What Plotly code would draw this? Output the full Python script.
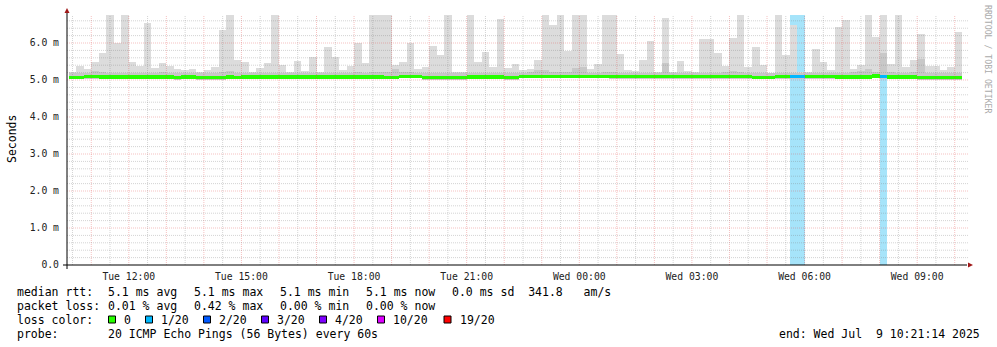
import plotly.graph_objects as go
import pandas as pd

# ---------------- data ----------------
bin_first_start = "2025-07-08 10:24:00"
bin_minutes = 12
window_start = "2025-07-08 10:21:14"
window_end = "2025-07-09 10:21:14"

rtt_max_ms = [
    5.22, 5.38, 5.30, 5.49, 5.73, 6.76, 6.00, 6.76, 5.49, 5.38,
    6.54, 5.32, 5.46, 5.38, 5.30, 5.27, 5.30, 5.22, 5.27, 5.35,
    6.35, 6.76, 5.54, 5.49, 5.22, 5.32, 5.46, 6.76, 5.41, 5.22,
    5.51, 5.24, 5.62, 5.22, 5.89, 5.62, 5.27, 5.38, 6.00, 5.46,
    6.76, 6.76, 6.76, 5.41, 5.49, 6.00, 5.30, 5.35, 5.92, 5.68,
    6.76, 5.23, 5.22, 6.76, 5.49, 5.76, 5.35, 6.65, 5.32, 5.43,
    5.27, 5.30, 5.54, 6.76, 6.49, 6.76, 5.78, 6.76, 6.76, 5.30,
    5.43, 6.76, 6.76, 5.70, 5.27, 5.24, 5.54, 6.05, 5.22, 6.68,
    5.22, 5.51, 5.24, 5.22, 6.11, 6.11, 5.73, 5.38, 6.14, 6.76,
    5.35, 5.89, 5.41, 5.20, 6.76, 5.68, 6.49, 5.22, 5.22, 5.84,
    5.49, 5.27, 6.43, 6.62, 5.30, 5.41, 6.76, 6.16, 6.76, 5.43,
    6.76, 5.35, 5.54, 6.24, 5.38, 5.38, 5.27, 5.35, 6.30,
]

rtt_dense_top_ms = [
    5.18, 5.19, 5.19, 5.24, 5.22, 5.19, 5.19, 5.19, 5.19, 5.19,
    5.20, 5.19, 5.21, 5.19, 5.18, 5.18, 5.18, 5.18, 5.19, 5.19,
    5.22, 5.24, 5.19, 5.19, 5.18, 5.19, 5.19, 5.19, 5.19, 5.18,
    5.19, 5.18, 5.19, 5.18, 5.19, 5.19, 5.18, 5.20, 5.21, 5.20,
    5.21, 5.22, 5.22, 5.30, 5.22, 5.21, 5.19, 5.18, 5.18, 5.18,
    5.19, 5.18, 5.18, 5.19, 5.18, 5.19, 5.19, 5.20, 5.18, 5.18,
    5.20, 5.21, 5.27, 5.27, 5.22, 5.23, 5.21, 5.33, 5.36, 5.20,
    5.20, 5.21, 5.21, 5.20, 5.20, 5.19, 5.19, 5.20, 5.19, 5.46,
    5.19, 5.19, 5.19, 5.19, 5.20, 5.20, 5.20, 5.22, 5.25, 5.22,
    5.20, 5.19, 5.19, 5.19, 5.20, 5.20, 5.20, 5.19, 5.19, 5.19,
    5.19, 5.19, 5.20, 5.20, 5.21, 5.24, 5.30, 5.22, 5.72, 5.21,
    5.20, 5.20, 5.22, 5.58, 5.20, 5.20, 5.19, 5.19, 5.20,
]

rtt_median_ms = [
    5.07, 5.07, 5.09, 5.09, 5.08, 5.08, 5.08, 5.08, 5.08, 5.08,
    5.08, 5.08, 5.08, 5.08, 5.06, 5.08, 5.08, 5.06, 5.06, 5.06,
    5.06, 5.08, 5.07, 5.08, 5.08, 5.08, 5.08, 5.08, 5.08, 5.08,
    5.08, 5.08, 5.08, 5.08, 5.08, 5.08, 5.08, 5.08, 5.08, 5.08,
    5.08, 5.08, 5.07, 5.07, 5.10, 5.10, 5.10, 5.06, 5.06, 5.06,
    5.06, 5.06, 5.06, 5.08, 5.08, 5.08, 5.08, 5.08, 5.06, 5.06,
    5.10, 5.10, 5.10, 5.10, 5.10, 5.10, 5.10, 5.10, 5.10, 5.10,
    5.10, 5.10, 5.09, 5.09, 5.09, 5.09, 5.09, 5.09, 5.09, 5.09,
    5.09, 5.09, 5.09, 5.09, 5.09, 5.09, 5.09, 5.09, 5.09, 5.09,
    5.09, 5.07, 5.07, 5.07, 5.09, 5.09, 5.09, 5.09, 5.09, 5.09,
    5.09, 5.09, 5.08, 5.08, 5.08, 5.08, 5.08, 5.11, 5.09, 5.08,
    5.08, 5.08, 5.08, 5.06, 5.06, 5.06, 5.06, 5.06, 5.06,
]

rtt_min_ms = [
    5.02, 5.02, 5.04, 5.04, 5.03, 5.03, 5.03, 5.03, 5.03, 5.03,
    5.03, 5.03, 5.03, 5.03, 5.01, 5.03, 5.03, 5.01, 5.01, 5.01,
    5.01, 5.03, 5.02, 5.03, 5.03, 5.03, 5.03, 5.03, 5.03, 5.03,
    5.03, 5.03, 5.03, 5.03, 5.03, 5.03, 5.03, 5.03, 5.03, 5.03,
    5.03, 5.03, 5.02, 5.02, 5.05, 5.05, 5.05, 5.01, 5.01, 5.01,
    5.01, 5.01, 5.01, 5.03, 5.03, 5.03, 5.03, 5.03, 5.01, 5.01,
    5.05, 5.05, 5.05, 5.05, 5.05, 5.05, 5.05, 5.05, 5.05, 5.05,
    5.05, 5.05, 5.04, 5.04, 5.04, 5.04, 5.04, 5.04, 5.04, 5.04,
    5.04, 5.04, 5.04, 5.04, 5.04, 5.04, 5.04, 5.04, 5.04, 5.04,
    5.04, 5.02, 5.02, 5.02, 5.04, 5.04, 5.04, 5.04, 5.04, 5.04,
    5.04, 5.04, 5.03, 5.03, 5.03, 5.03, 5.03, 5.06, 5.04, 5.03,
    5.03, 5.03, 5.03, 5.01, 5.01, 5.01, 5.01, 5.01, 5.01,
]

# lost pings (out of 20) per bin
loss_pings = [
    0, 0, 0, 0, 0, 0, 0, 0, 0, 0,
    0, 0, 0, 0, 0, 0, 0, 0, 0, 0,
    0, 0, 0, 0, 0, 0, 0, 0, 0, 0,
    0, 0, 0, 0, 0, 0, 0, 0, 0, 0,
    0, 0, 0, 0, 0, 0, 0, 0, 0, 0,
    0, 0, 0, 0, 0, 0, 0, 0, 0, 0,
    0, 0, 0, 0, 0, 0, 0, 0, 0, 0,
    0, 0, 0, 0, 0, 0, 0, 0, 0, 0,
    0, 0, 0, 0, 0, 0, 0, 0, 0, 0,
    0, 0, 0, 0, 0, 0, 1, 1, 0, 0,
    0, 0, 0, 0, 0, 0, 0, 0, 1, 0,
    0, 0, 0, 0, 0, 0, 0, 0, 0,
]

loss_levels = [0, 1, 2, 3, 4, 10, 19]
loss_labels = ["0", "1/20", "2/20", "3/20", "4/20", "10/20", "19/20"]
loss_colors = ["#26ff00", "#00b8ff", "#0059ff", "#5e00ff", "#7e00ff", "#dd00ff", "#ff0000"]

y_tick_values = [0, 1, 2, 3, 4, 5, 6]
y_tick_labels = ["0.0", "1.0 m", "2.0 m", "3.0 m", "4.0 m", "5.0 m", "6.0 m"]
x_tick_values = ["2025-07-08 12:00", "2025-07-08 15:00", "2025-07-08 18:00", "2025-07-08 21:00",
                 "2025-07-09 00:00", "2025-07-09 03:00", "2025-07-09 06:00", "2025-07-09 09:00"]
x_tick_labels = ["Tue 12:00", "Tue 15:00", "Tue 18:00", "Tue 21:00",
                 "Wed 00:00", "Wed 03:00", "Wed 06:00", "Wed 09:00"]

stats_rtt = ["5.1 ms avg", "5.1 ms max", "5.1 ms min", "5.1 ms now", "0.0 ms sd  341.8   am/s"]
stats_loss = ["0.01 % avg", "0.42 % max", "0.00 % min", "0.00 % now"]
probe_text = "20 ICMP Echo Pings (56 Bytes) every 60s"
end_text = "end: Wed Jul  9 10:21:14 2025"
y_top = 6.757

# ---------------- layout helpers ----------------
W, H = 997, 347
L, T, PW, PH = 67, 15, 901, 250
FONT = "DejaVu Sans Mono"


def xp(px):
    return (px - L) / PW


def yp(py):
    return (T + PH - py) / PH


n = len(rtt_max_ms)
bins = pd.date_range(bin_first_start, periods=n, freq=f"{bin_minutes}min")
bw = bin_minutes * 60 * 1000
color_of = dict(zip(loss_levels, loss_colors))

fig = go.Figure()

# loss background
loss_idx = [i for i in range(n) if loss_pings[i] > 0]
fig.add_trace(go.Bar(
    x=[bins[i] for i in loss_idx], y=[y_top] * len(loss_idx), base=0,
    width=bw, offset=0, marker=dict(color="#a6e4fa", line=dict(width=0)),
    hoverinfo="skip", showlegend=False))

# smoke (light)
fig.add_trace(go.Bar(
    x=bins, y=[mx - mn for mx, mn in zip(rtt_max_ms, rtt_min_ms)], base=rtt_min_ms,
    width=bw, offset=0, marker=dict(color="#dcdcdc", line=dict(width=0)),
    hoverinfo="skip", showlegend=False))

# smoke (dense)
fig.add_trace(go.Bar(
    x=bins, y=[d - mn for d, mn in zip(rtt_dense_top_ms, rtt_min_ms)], base=rtt_min_ms,
    width=bw, offset=0, marker=dict(color="#c8c8c8", line=dict(width=0)),
    hoverinfo="skip", showlegend=False))

# median band coloured by loss
half = 0.045
fig.add_trace(go.Bar(
    x=bins, y=[2 * half] * n, base=[m - half for m in rtt_median_ms],
    width=bw, offset=0,
    marker=dict(color=[color_of[lp] for lp in loss_pings], line=dict(width=0)),
    hoverinfo="skip", showlegend=False))

shapes = []
# grid (drawn above the data like rrdtool)
minor_col = "rgba(120,120,120,0.32)"
major_col = "rgba(225,70,70,0.34)"
for t in pd.date_range("2025-07-08 10:30", "2025-07-09 10:00", freq="30min"):
    shapes.append(dict(type="line", xref="x", yref="paper", x0=t, x1=t, y0=0, y1=1,
                       layer="above",
                       line=dict(color=major_col if t.minute == 0 else minor_col,
                                 width=1, dash="1px,1px")))
for i in range(1, 34):
    v = i * 0.2
    shapes.append(dict(type="line", xref="paper", yref="y", x0=0, x1=1, y0=v, y1=v,
                       layer="above",
                       line=dict(color=major_col if i % 5 == 0 else minor_col,
                                 width=1, dash="1px,1px")))

# axes with arrows
shapes.append(dict(type="line", xref="paper", yref="paper", x0=xp(63), x1=xp(967),
                   y0=yp(265), y1=yp(265), line=dict(color="black", width=1), layer="above"))
shapes.append(dict(type="line", xref="paper", yref="paper", x0=xp(67), x1=xp(67),
                   y0=yp(269), y1=yp(11), line=dict(color="black", width=1), layer="above"))
shapes.append(dict(type="path", xref="paper", yref="paper",
                   path=f"M {xp(64.5)} {yp(13)} L {xp(69.5)} {yp(13)} L {xp(67)} {yp(8)} Z",
                   fillcolor="#a01818", line=dict(width=0), layer="above"))
shapes.append(dict(type="path", xref="paper", yref="paper",
                   path=f"M {xp(968)} {yp(262.5)} L {xp(968)} {yp(267.5)} L {xp(973)} {yp(265)} Z",
                   fillcolor="#a01818", line=dict(width=0), layer="above"))

annotations = []


def text(px, py, s, size=11.5, color="black", anchor="left", angle=0):
    annotations.append(dict(xref="paper", yref="paper", x=xp(px), y=yp(py), text=s,
                            showarrow=False, xanchor=anchor, yanchor="middle",
                            textangle=angle, borderpad=0,
                            font=dict(family=FONT, size=size, color=color)))


# y title and side credit
text(12, 139, "Seconds", anchor="center", angle=-90)
text(988, 59, "RRDTOOL / TOBI OETIKER", size=8.2, color="#aaaaaa", anchor="center", angle=90)

# legend block
row_y = [291.5, 305.5, 319.5, 333.5]
text(16, row_y[0], "median rtt:")
for xpx, s in zip([107, 193, 279, 365, 451], stats_rtt):
    text(xpx, row_y[0], s)
text(16, row_y[1], "packet loss:")
for xpx, s in zip([107, 193, 279, 365], stats_loss):
    text(xpx, row_y[1], s)
text(16, row_y[2], "loss color:")
box_x = [108.5, 145.5, 203.5, 261.5, 319.5, 377.5, 444]
for bx, lab, col in zip(box_x, loss_labels, loss_colors):
    shapes.append(dict(type="rect", xref="paper", yref="paper",
                       x0=xp(bx), x1=xp(bx + 7), y0=yp(row_y[2] - 3.5), y1=yp(row_y[2] + 3.5),
                       fillcolor=col, line=dict(color="black", width=1)))
    text(bx + 14.5, row_y[2], lab)
text(16, row_y[3], "probe:")
text(107, row_y[3], probe_text)
text(778, row_y[3], end_text)

fig.update_layout(
    width=W, height=H, autosize=False,
    margin=dict(l=L, r=W - L - PW, t=T, b=H - T - PH, pad=0),
    paper_bgcolor="white", plot_bgcolor="white",
    barmode="overlay", bargap=0, showlegend=False,
    shapes=shapes, annotations=annotations,
    xaxis=dict(type="date", range=[window_start, window_end], showgrid=False, zeroline=False,
               showline=False, tickmode="array", tickvals=x_tick_values, ticktext=x_tick_labels,
               ticks="", tickfont=dict(family=FONT, size=9.75, color="#222"),
               ticklabelstandoff=4, fixedrange=True),
    yaxis=dict(range=[0, y_top], showgrid=False, zeroline=False, showline=False,
               tickmode="array", tickvals=y_tick_values, ticktext=y_tick_labels,
               ticks="", tickfont=dict(family=FONT, size=9.75, color="#222"),
               ticklabelstandoff=7, fixedrange=True),
)

fig.write_html("out.html")
